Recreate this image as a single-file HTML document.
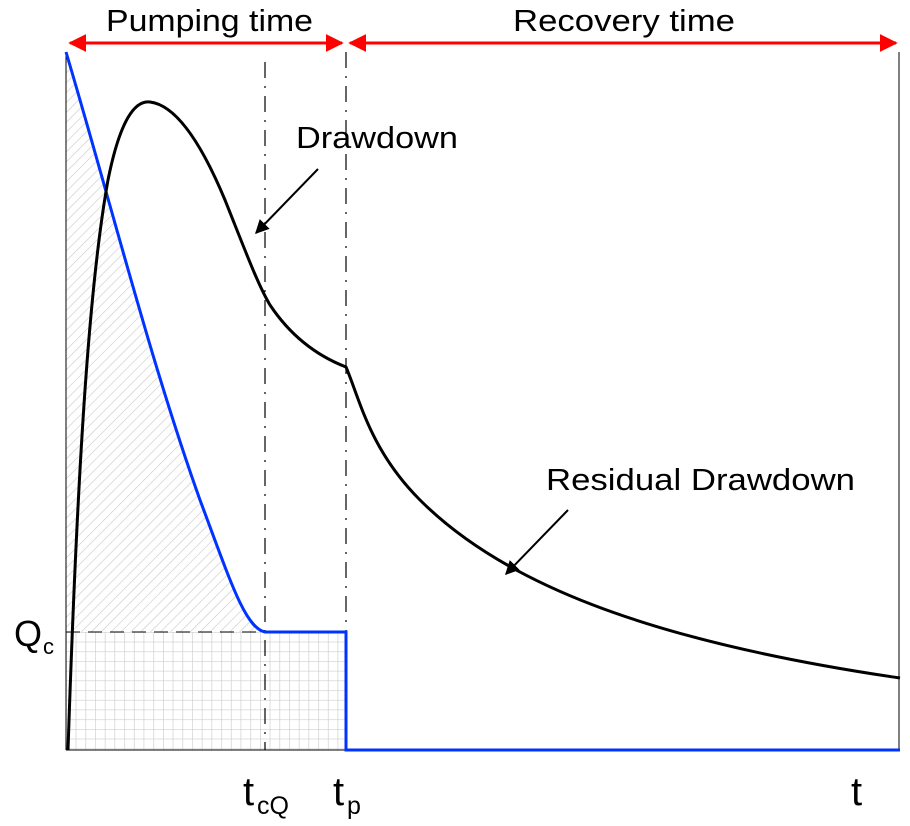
<!DOCTYPE html>
<html><head><style>body{margin:0;background:#fff}svg{display:block}text{font-family:"Liberation Sans",sans-serif}</style></head>
<body>
<svg width="910" height="826" viewBox="0 0 910 826" xmlns="http://www.w3.org/2000/svg">
<defs>
<pattern id="diag" width="7" height="7" patternUnits="userSpaceOnUse" patternTransform="rotate(45)">
<line x1="0" y1="0" x2="0" y2="7" stroke="#c8c8c8" stroke-width="1.2"/></pattern>
<pattern id="grid" x="66" y="632" width="9.7" height="9.7" patternUnits="userSpaceOnUse">
<path d="M0 0H9.7M0 0V9.7" stroke="#cdcdcd" stroke-width="1.3" fill="none"/></pattern>
<marker id="ah" viewBox="0 0 10 10" refX="9" refY="5" markerWidth="6" markerHeight="6" orient="auto-start-reverse"><path d="M0 0L10 5L0 10z" fill="red"/></marker>
<marker id="bk" viewBox="0 0 10 10" refX="9" refY="5" markerWidth="7" markerHeight="7" orient="auto"><path d="M0 0L10 5L0 10z" fill="#000"/></marker>
</defs>
<path d="M66 52 C110 200 150 360 200 500 C230 580 245 628 265 632 L66 632 Z" fill="url(#diag)"/>
<rect x="66" y="632" width="280" height="118" fill="url(#grid)"/>
<line x1="66" y1="632" x2="265" y2="632" stroke="#000" stroke-width="1" stroke-dasharray="14,8"/>
<line x1="265" y1="62" x2="265" y2="750" stroke="#000" stroke-width="1.2" stroke-dasharray="16,8,2,8"/>
<line x1="346" y1="52" x2="346" y2="632" stroke="#000" stroke-width="1.2" stroke-dasharray="16,8,2,8"/>
<line x1="66" y1="52" x2="66" y2="750" stroke="#000" stroke-width="1"/>
<line x1="899" y1="52" x2="899" y2="750" stroke="#000" stroke-width="1"/>
<line x1="66" y1="750" x2="900" y2="750" stroke="#000" stroke-width="1"/>
<path d="M66 52 C110 200 150 360 200 500 C230 580 245 628 265 632 L346 632 L346 750 L900 750" fill="none" stroke="#0033ff" stroke-width="3"/>
<path d="M68 750 C78 450 90 280 108 180 C120 120 135 100 150 102 C175 105 200 140 225 200 C245 250 258 285 270 305 C290 335 315 355 346 367 C360 400 370 450 420 500 C500 580 640 640 900 678" fill="none" stroke="#000" stroke-width="3"/>
<line x1="70" y1="43" x2="342" y2="43" stroke="red" stroke-width="3" marker-start="url(#ah)" marker-end="url(#ah)"/>
<line x1="350" y1="43" x2="896" y2="43" stroke="red" stroke-width="3" marker-start="url(#ah)" marker-end="url(#ah)"/>
<text x="106" y="31" font-size="31" textLength="207" lengthAdjust="spacingAndGlyphs">Pumping time</text>
<text x="513" y="31" font-size="31" textLength="222" lengthAdjust="spacingAndGlyphs">Recovery time</text>
<text x="296" y="148" font-size="31" textLength="162" lengthAdjust="spacingAndGlyphs">Drawdown</text>
<line x1="318" y1="169" x2="256" y2="233" stroke="#000" stroke-width="2" marker-end="url(#bk)"/>
<text x="546" y="490" font-size="31" textLength="309" lengthAdjust="spacingAndGlyphs">Residual Drawdown</text>
<line x1="568" y1="510" x2="506" y2="574" stroke="#000" stroke-width="2" marker-end="url(#bk)"/>
<text x="14" y="646" font-size="36">Q</text><text x="43" y="654" font-size="22">c</text>
<text x="243" y="805" font-size="40">t</text><text x="257" y="814" font-size="25">cQ</text>
<text x="333" y="805" font-size="40">t</text><text x="347" y="814" font-size="25">p</text>
<text x="851" y="805" font-size="40">t</text>
</svg>
</body></html>
